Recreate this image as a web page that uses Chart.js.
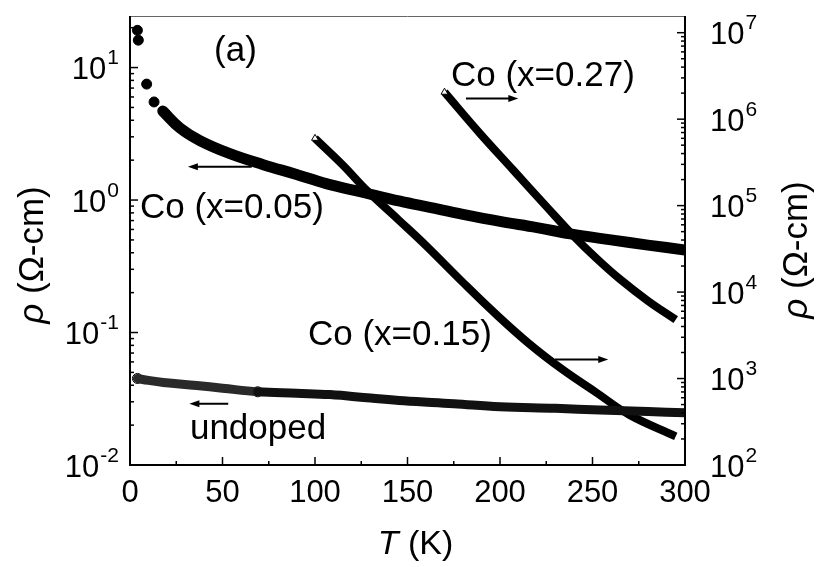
<!DOCTYPE html>
<html>
<head>
<meta charset="utf-8">
<script src="https://cdn.jsdelivr.net/npm/chart.js@4.4.1/dist/chart.umd.min.js"></script>
<style>
  html, body { margin: 0; padding: 0; background: #fff; }
  #wrap { width: 817px; height: 567px; }
</style>
</head>
<body>
<div id="wrap"><canvas id="rhoChart" width="817" height="567"></canvas></div>
<script>
// T (K) and rho (Ohm-cm)
const co05DotT   = [4, 4.5, 9, 13];
const co05DotRho = [19.1, 16.1, 7.5, 5.5];
const co05T   = [17.7, 27, 38, 54, 72, 90, 106, 125, 146, 162, 180, 200, 220, 238, 260, 280, 300];
const co05Rho = [4.7, 3.5, 2.8, 2.24, 1.85, 1.56, 1.33, 1.15, 0.98, 0.88, 0.78, 0.69, 0.62, 0.555, 0.50, 0.457, 0.42];

const undopedT   = [4, 10, 18, 36, 50, 69, 90, 108, 130, 148, 175, 200, 230, 254, 280, 300];
const undopedRho = [0.045, 0.0435, 0.042, 0.0398, 0.038, 0.0357, 0.0348, 0.034, 0.032, 0.0305, 0.029, 0.0275, 0.0268, 0.026, 0.0253, 0.0248];
const undopedOpenT = [4, 69]; // the circles that stand out white

// right axis
const co15T   = [100, 115, 128, 145, 160, 180, 198, 216, 234, 252, 270, 295];
const co15Rho = [6.0e5, 2.95e5, 1.5e5, 6.9e4, 3.45e4, 1.29e4, 5.5e3, 2.5e3, 1.26e3, 690, 380, 215];
const co27T   = [170, 189, 207, 225, 240, 252, 265, 280, 295];
const co27Rho = [2.05e6, 6.9e5, 2.6e5, 9.8e4, 4.4e4, 2.47e4, 1.4e4, 7.9e3, 4.8e3];

// ticks
const xMajor = [0, 50, 100, 150, 200, 250, 300];
const xMinor = [25, 75, 125, 175, 225, 275];
const leftExp  = [-2, -1, 0, 1];
const rightExp = [2, 3, 4, 5, 6, 7];

const pts = (xs, ys) => xs.map((t, i) => ({ x: t, y: ys[i] }));
const FONT = '"Liberation Sans", Arial, sans-serif';

function arrow(ctx, x1, y1, x2, y2) {
  const dir = Math.sign(x2 - x1);
  ctx.beginPath();
  ctx.moveTo(x1, y1);
  ctx.lineTo(x2 - dir * 6, y2);
  ctx.stroke();
  ctx.beginPath();
  ctx.moveTo(x2, y2);
  ctx.lineTo(x2 - dir * 10, y2 - 3.5);
  ctx.lineTo(x2 - dir * 10, y2 + 3.5);
  ctx.closePath();
  ctx.fill();
}

function powerLabel(ctx, exp, x, y, align) {
  const sup = String(exp);
  ctx.font = '31px ' + FONT;
  const wb = ctx.measureText('10').width;
  ctx.font = '21px ' + FONT;
  const ws = ctx.measureText(sup).width;
  const x0 = align === 'right' ? x - wb - ws : x;
  ctx.textAlign = 'left';
  ctx.textBaseline = 'middle';
  ctx.font = '31px ' + FONT;
  ctx.fillText('10', x0, y + 3);
  ctx.font = '21px ' + FONT;
  ctx.fillText(sup, x0 + wb + 1, y - 9);
}

function rhoTitle(ctx, cx, cy) {
  ctx.save();
  ctx.translate(cx, cy);
  ctx.rotate(-Math.PI / 2);
  ctx.textBaseline = 'middle';
  ctx.textAlign = 'left';
  ctx.font = 'italic 35px ' + FONT;
  const w1 = ctx.measureText('\u03C1').width;
  ctx.font = '35px ' + FONT;
  const w2 = ctx.measureText(' (\u03A9-cm)').width;
  const x0 = -(w1 + w2) / 2;
  ctx.font = 'italic 35px ' + FONT;
  ctx.fillText('\u03C1', x0, 0);
  ctx.font = '35px ' + FONT;
  ctx.fillText(' (\u03A9-cm)', x0 + w1, 0);
  ctx.restore();
}

const decorations = {
  id: 'decorations',
  afterDraw(chart) {
    const { ctx, chartArea: a, scales } = chart;
    const sx = scales.x, yl = scales.y, yr = scales.y2;
    ctx.save();
    ctx.fillStyle = '#000';
    ctx.strokeStyle = '#000';

    // frame
    ctx.lineWidth = 1;
    ctx.strokeStyle = '#666';
    ctx.beginPath(); ctx.moveTo(a.left, a.top + 0.5); ctx.lineTo(a.right, a.top + 0.5); ctx.stroke();
    ctx.strokeStyle = '#000';
    ctx.lineWidth = 2;
    ctx.beginPath();
    ctx.moveTo(a.left, a.top); ctx.lineTo(a.left, a.bottom);
    ctx.lineTo(a.right, a.bottom); ctx.lineTo(a.right, a.top);
    ctx.stroke();

    // x ticks, inside
    ctx.lineWidth = 1.5;
    xMajor.forEach(v => {
      const px = sx.getPixelForValue(v);
      ctx.beginPath(); ctx.moveTo(px, a.bottom); ctx.lineTo(px, a.bottom - 8); ctx.stroke();
    });
    xMinor.forEach(v => {
      const px = sx.getPixelForValue(v);
      ctx.beginPath(); ctx.moveTo(px, a.bottom); ctx.lineTo(px, a.bottom - 4); ctx.stroke();
    });

    // log ticks on both sides, inside
    const logTicks = (scale, exps, xEdge, dir) => {
      exps.forEach(e => {
        for (let k = 1; k <= 9; k++) {
          const v = k * Math.pow(10, e);
          if (v < scale.min * 0.999 || v > scale.max) continue;
          const py = scale.getPixelForValue(v);
          const len = k === 1 ? 8 : 4;
          ctx.beginPath(); ctx.moveTo(xEdge, py); ctx.lineTo(xEdge + dir * len, py); ctx.stroke();
        }
      });
    };
    logTicks(yl, leftExp, a.left, 1);
    logTicks(yr, rightExp, a.right, -1);

    // tick labels
    ctx.font = '31px ' + FONT;
    ctx.textAlign = 'center';
    ctx.textBaseline = 'middle';
    xMajor.forEach(v => ctx.fillText(String(v), sx.getPixelForValue(v), a.bottom + 28));
    leftExp.forEach(e => powerLabel(ctx, e, a.left - 12, yl.getPixelForValue(Math.pow(10, e)), 'right'));
    rightExp.forEach(e => powerLabel(ctx, e, a.right + 25, yr.getPixelForValue(Math.pow(10, e)), 'left'));

    // axis titles
    rhoTitle(ctx, 33, 255);
    rhoTitle(ctx, 797, 250);
    ctx.textBaseline = 'middle';
    ctx.textAlign = 'left';
    ctx.font = 'italic 34px ' + FONT;
    const wT = ctx.measureText('T').width;
    ctx.font = '34px ' + FONT;
    const wK = ctx.measureText(' (K)').width;
    const tx = (a.left + a.right) / 2 + 8 - (wT + wK) / 2;
    ctx.font = 'italic 34px ' + FONT;
    ctx.fillText('T', tx, 545);
    ctx.font = '34px ' + FONT;
    ctx.fillText(' (K)', tx + wT, 545);

    // labels, placed in data units
    ctx.font = '35px ' + FONT;
    ctx.textAlign = 'center';
    ctx.fillText('(a)', sx.getPixelForValue(57), yl.getPixelForValue(13.2));
    ctx.textAlign = 'left';
    ctx.fillText('Co (x=0.05)', sx.getPixelForValue(5.4), yl.getPixelForValue(0.863));
    ctx.fillText('undoped', sx.getPixelForValue(32.4), yl.getPixelForValue(0.0185));
    ctx.fillText('Co (x=0.27)', sx.getPixelForValue(173.5), yr.getPixelForValue(3.1e6));
    ctx.fillText('Co (x=0.15)', sx.getPixelForValue(96.2), yr.getPixelForValue(3.14e3));

    // arrows pointing to the axis each curve uses
    ctx.lineWidth = 2;
    arrow(ctx, sx.getPixelForValue(65.8), yl.getPixelForValue(1.78), sx.getPixelForValue(31.3), yl.getPixelForValue(1.78));
    arrow(ctx, sx.getPixelForValue(53.1), yl.getPixelForValue(0.029), sx.getPixelForValue(32.1), yl.getPixelForValue(0.029));
    arrow(ctx, sx.getPixelForValue(181.6), yr.getPixelForValue(1.73e6), sx.getPixelForValue(209.9), yr.getPixelForValue(1.73e6));
    arrow(ctx, sx.getPixelForValue(229.7), yr.getPixelForValue(1.66e3), sx.getPixelForValue(258.5), yr.getPixelForValue(1.66e3));
    ctx.restore();
  }
};

const firstMarker = ctx => (ctx.dataIndex === 0 ? 4 : 0);

new Chart(document.getElementById('rhoChart'), {
  type: 'scatter',
  data: {
    datasets: [
      {
        label: 'undoped',
        data: pts(undopedT, undopedRho),
        yAxisID: 'y',
        showLine: true,
        tension: 0.4,
        borderColor: '#111',
        borderWidth: 9,
        borderCapStyle: 'round',
        borderJoinStyle: 'round',
        segment: { borderColor: c => (c.p0.parsed.x < 69 ? '#2a2a2a' : '#111') },
        pointRadius: 0
      },
      {
        label: 'undoped open',
        data: pts(undopedT, undopedRho).filter(p => undopedOpenT.includes(p.x)),
        yAxisID: 'y',
        pointRadius: 5,
        pointBackgroundColor: '#fff',
        pointBorderColor: '#000',
        pointBorderWidth: 1
      },
      {
        label: 'Co x=0.05 dots',
        data: pts(co05DotT, co05DotRho),
        yAxisID: 'y',
        pointRadius: 5,
        pointBackgroundColor: '#000',
        pointBorderColor: '#000'
      },
      {
        label: 'Co x=0.05',
        data: pts(co05T, co05Rho),
        yAxisID: 'y',
        showLine: true,
        tension: 0.4,
        borderColor: '#000',
        borderWidth: 11,
        borderCapStyle: 'round',
        borderJoinStyle: 'round',
        pointRadius: 0
      },
      {
        label: 'Co x=0.15',
        data: pts(co15T, co15Rho),
        yAxisID: 'y2',
        showLine: true,
        tension: 0.4,
        borderColor: '#000',
        borderWidth: 8,
        borderJoinStyle: 'round',
        pointStyle: 'triangle',
        pointRadius: firstMarker,
        pointBackgroundColor: '#fff',
        pointBorderColor: '#000',
        pointBorderWidth: 1
      },
      {
        label: 'Co x=0.27',
        data: pts(co27T, co27Rho),
        yAxisID: 'y2',
        showLine: true,
        tension: 0.4,
        borderColor: '#000',
        borderWidth: 8,
        borderJoinStyle: 'round',
        pointStyle: 'triangle',
        pointRadius: firstMarker,
        pointBackgroundColor: '#fff',
        pointBorderColor: '#000',
        pointBorderWidth: 1
      }
    ]
  },
  options: {
    responsive: false,
    animation: false,
    layout: { padding: { top: 16, left: 0, right: 0, bottom: 0 } },
    plugins: { legend: { display: false }, tooltip: { enabled: false } },
    scales: {
      x: {
        type: 'linear', min: 0, max: 300,
        ticks: { display: false },
        grid: { display: false, drawTicks: false },
        border: { display: false },
        afterFit(s) { s.height = 102; }
      },
      y: {
        type: 'logarithmic', position: 'left', min: 0.01, max: 24.5,
        ticks: { display: false },
        grid: { display: false, drawTicks: false },
        border: { display: false },
        afterFit(s) { s.width = 130; }
      },
      y2: {
        type: 'logarithmic', position: 'right', min: 100, max: 1.56e7,
        ticks: { display: false },
        grid: { display: false, drawTicks: false },
        border: { display: false },
        afterFit(s) { s.width = 132; }
      }
    }
  },
  plugins: [decorations]
});
</script>
</body>
</html>
